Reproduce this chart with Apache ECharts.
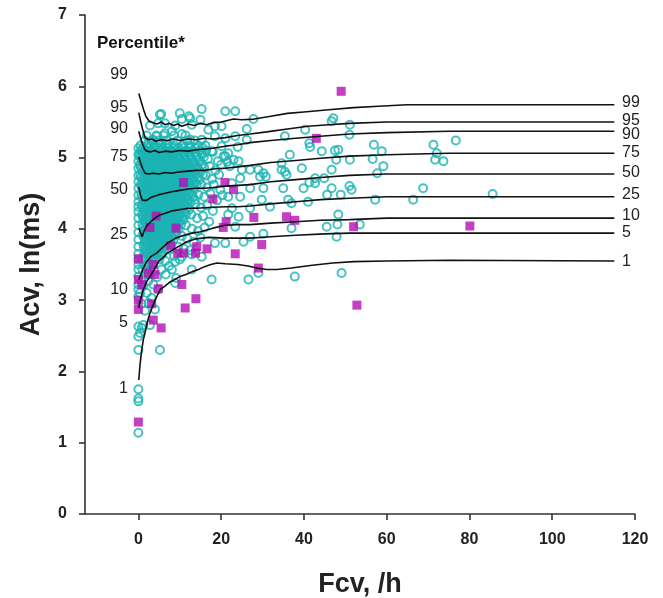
<!DOCTYPE html>
<html>
<head>
<meta charset="utf-8">
<script src="https://cdn.jsdelivr.net/npm/echarts@6/dist/echarts.min.js"></script>
<style>html,body{margin:0;padding:0;background:#fff}#c{width:663px;height:598px}</style>
</head>
<body>
<div id="c"></div>
<script>
// ---- axis ticks ----
const xTicks = [0, 20, 40, 60, 80, 100, 120];
const percentileNames = ['99', '95', '90', '75', '50', '25', '10', '5', '1'];

// ---- percentile curves [Fcv, Acv] ----
const p99 = [[0.1,5.90],[0.6,5.80],[1.2,5.68],[1.8,5.58],[2.6,5.51],[3.5,5.49],[4.5,5.47],[5.5,5.50],[6.5,5.46],[7.5,5.48],[8.5,5.45],[9.5,5.47],[10.5,5.44],[12,5.47],[13.5,5.45],[15,5.48],[16.5,5.46],[18,5.49],[20,5.50],[23,5.54],[25,5.53],[28,5.54],[32,5.58],[36,5.62],[40,5.64],[46,5.67],[52,5.70],[58,5.72],[65,5.74],[115,5.74]];
const p95 = [[0.1,5.63],[0.5,5.52],[1.0,5.40],[1.6,5.28],[2.4,5.25],[3.2,5.26],[4.2,5.23],[5.5,5.25],[7,5.24],[8.5,5.26],[10,5.24],[12,5.26],[14,5.25],[16,5.27],[18,5.26],[21,5.28],[24,5.31],[27,5.33],[31,5.36],[36,5.40],[41,5.44],[46,5.46],[51,5.48],[60,5.50],[80,5.50],[115,5.50]];
const p90 = [[0.1,5.37],[0.5,5.28],[1.0,5.19],[1.5,5.12],[2.0,5.09],[3,5.08],[4,5.10],[5,5.07],[6.5,5.09],[8,5.08],[10,5.10],[12,5.09],[14,5.11],[16,5.12],[18,5.13],[21,5.16],[24,5.18],[27,5.21],[32,5.24],[38,5.27],[44,5.30],[51,5.33],[60,5.35],[75,5.37],[115,5.37]];
const p75 = [[0.1,5.01],[0.5,4.93],[1.0,4.85],[1.6,4.78],[2.5,4.77],[3.5,4.78],[5,4.77],[6.5,4.79],[8,4.78],[10,4.80],[12,4.81],[14,4.82],[16,4.82],[18,4.84],[21,4.85],[24,4.87],[27,4.89],[32,4.93],[38,4.96],[44,4.99],[51,5.02],[60,5.04],[75,5.06],[115,5.06]];
const p50 = [[0.1,4.59],[0.5,4.47],[1.0,4.40],[1.3,4.38],[2,4.40],[3,4.44],[4,4.46],[5,4.48],[6.5,4.50],[8,4.52],[10,4.54],[12,4.56],[14,4.57],[16,4.57],[18,4.58],[21,4.60],[24,4.61],[27,4.62],[32,4.66],[38,4.69],[44,4.72],[51,4.75],[60,4.77],[115,4.77]];
const p25 = [[0.1,4.01],[0.5,3.95],[0.9,3.89],[1.3,3.96],[2,4.04],[3,4.10],[4,4.15],[5,4.19],[6.5,4.22],[8,4.25],[10,4.27],[12,4.29],[14,4.29],[17,4.30],[21,4.31],[24,4.31],[27,4.32],[32,4.35],[38,4.38],[44,4.41],[51,4.43],[60,4.45],[115,4.45]];
const p10 = [[0.1,3.29],[0.6,3.36],[1.2,3.45],[2,3.54],[3,3.61],[4.4,3.66],[5.5,3.72],[7,3.80],[9,3.87],[11,3.91],[13,3.94],[15,3.96],[18,4.01],[21,4.05],[24,4.06],[27,4.06],[32,4.08],[38,4.10],[44,4.12],[51,4.13],[60,4.15],[115,4.15]];
const p5 = [[0.1,2.89],[0.6,3.03],[1.2,3.15],[2,3.26],[2.8,3.33],[4,3.45],[5,3.55],[6,3.60],[7,3.66],[9,3.73],[11.7,3.82],[14,3.86],[17,3.88],[21,3.87],[24,3.87],[27,3.87],[32,3.89],[38,3.91],[45,3.93],[51,3.94],[115,3.94]];
const p1 = [[0.1,1.88],[0.4,2.10],[0.8,2.30],[1.2,2.45],[1.6,2.54],[2.2,2.70],[2.8,2.82],[3.5,2.92],[4.2,3.02],[5.3,3.15],[6.5,3.20],[7.5,3.25],[8.5,3.28],[10,3.33],[11.5,3.36],[13,3.40],[14.5,3.43],[16,3.47],[17.5,3.50],[19,3.52],[21,3.51],[24,3.50],[26.5,3.48],[28.6,3.45],[31,3.43],[33.5,3.43],[37,3.45],[42,3.49],[47,3.52],[52,3.54],[60,3.55],[75,3.56],[115,3.55]];

// ---- teal (open circle) subjects: dense core, rows of [Acv, [Fcv...]] ----
const cyanCoreRows = [
  [5.31, [2.0,4.4,6.1,8.6,11.4]],
  [5.24, [1.5,3.3,5.0,6.8,9.4,11.8,13.6]],
  [5.17, [0.5,2.2,3.9,5.6,7.0,8.8,10.6,12.3,14.5,16.2]],
  [5.135, [1.2,2.6,3.6,4.7,5.9,7.1,8.3,9.6,10.9,12.4,13.8,15.5]],
  [5.10, [0.6,1.8,3.0,4.1,5.3,6.4,7.7,9.0,10.2,11.6,13.1,14.8,16.4]],
  [5.07, [0.9,2.1,3.3,4.5,5.7,7.0,8.2,9.4,10.7,12.1,13.6,15.2]],
  [5.04, [0.3,1.2,2.4,3.5,4.7,5.9,7.1,8.3,9.6,11.0,12.4,14.0]],
  [5.005, [0.5,1.5,2.6,3.7,4.9,6.1,7.3,8.5,9.8,11.2,12.6,14.0,15.8]],
  [4.97, [0.8,1.9,3.0,4.2,5.4,6.5,7.7,8.9,10.1,11.5,12.9,14.6]],
  [4.935, [1.0,2.0,3.1,4.3,5.5,6.7,7.9,9.2,10.5,11.9,13.3,14.9]],
  [4.90, [0.4,1.4,2.5,3.6,4.8,5.9,7.1,8.4,9.6,10.9,12.2,13.7,15.3]],
  [4.865, [0.6,1.6,2.8,3.9,5.1,6.3,7.5,8.8,10.1,11.4,12.8,14.2,15.9]],
  [4.83, [0.9,2.0,3.1,4.2,5.3,6.5,7.8,9.0,10.3,11.6,13.0,14.5]],
  [4.795, [1.1,2.2,3.4,4.5,5.8,7.0,8.2,9.5,10.8,12.1,13.5,15.0]],
  [4.76, [0.5,1.5,2.6,3.7,4.8,6.0,7.2,8.4,9.7,11.1,12.4,13.9,15.6]],
  [4.725, [0.7,1.7,2.9,4.0,5.2,6.4,7.6,8.9,10.2,11.6,13.0,14.4]],
  [4.69, [1.0,2.1,3.2,4.3,5.4,6.6,7.8,9.1,10.4,11.8,13.2,14.8]],
  [4.655, [1.2,2.3,3.5,4.6,5.9,7.1,8.3,9.6,10.9,12.3,13.8]],
  [4.62, [0.6,1.6,2.7,3.8,4.9,6.1,7.3,8.5,9.8,11.2,12.6,14.1]],
  [4.585, [0.8,1.8,3.0,4.1,5.3,6.5,7.7,9.0,10.3,11.7,13.1]],
  [4.55, [1.1,2.2,3.3,4.4,5.5,6.7,7.9,9.2,10.5,11.9,13.5]],
  [4.515, [1.3,2.4,3.6,4.7,6.0,7.2,8.4,9.7,11.0,12.4]],
  [4.48, [0.7,1.7,2.8,3.9,5.0,6.2,7.4,8.6,9.9,11.3,12.8]],
  [4.445, [0.9,1.9,3.1,4.2,5.4,6.6,7.8,9.1,10.4,11.8,13.2]],
  [4.41, [1.2,2.3,3.4,4.5,5.6,6.8,8.0,9.3,10.6,12.0,13.6]],
  [4.375, [1.4,2.5,3.7,4.8,6.1,7.3,8.5,9.8,11.1,12.6]],
  [4.34, [0.8,1.8,2.9,4.0,5.1,6.3,7.5,8.7,10.0,11.4]],
  [4.305, [1.0,2.0,3.2,4.3,5.5,6.7,7.9,9.2,10.5,11.9]],
  [4.27, [1.3,2.4,3.5,4.6,5.7,6.9,8.1,9.4,10.8,12.3]],
  [4.235, [1.5,2.6,3.8,4.9,6.2,7.4,8.6,9.9,11.2]],
  [4.20, [0.9,1.9,3.0,4.1,5.2,6.4,7.6,8.8,10.1,11.5]],
  [4.165, [1.1,2.1,3.3,4.4,5.6,6.8,8.0,9.3,10.6]],
  [4.13, [1.4,2.5,3.6,4.7,5.8,7.0,8.2,9.5,10.9]],
  [4.095, [1.6,2.7,3.9,5.0,6.3,7.5,8.7,10.0]],
  [4.06, [1.0,2.0,3.1,4.2,5.3,6.5,7.7,8.9,10.3]],
  [4.025, [1.2,2.2,3.4,4.5,5.7,6.9,8.1,9.4]],
  [3.99, [1.5,2.6,3.7,4.8,5.9,7.1,8.3,9.7]],
  [3.955, [1.7,2.8,4.0,5.1,6.4,7.6,8.8]],
  [3.92, [1.1,2.1,3.2,4.3,5.4,6.6,7.8,9.1]],
  [3.885, [1.3,2.3,3.5,4.6,5.8,7.0,8.2]],
  [3.85, [1.6,2.7,3.8,4.9,6.0,7.2,8.5]],
  [3.815, [1.8,2.9,4.1,5.2,6.5,7.6]],
  [3.78, [1.2,2.2,3.3,4.4,5.5,6.7,8.0]],
  [3.745, [1.4,2.4,3.6,4.7,5.9]],
  [3.71, [1.7,2.8,3.9,5.0,6.2,7.4]],
  [3.675, [1.9,3.0,4.2,5.3]],
  [3.64, [1.3,2.3,3.4,4.5,5.7]],
  [3.605, [1.5,2.5,3.7]],
  [3.57, [0.9,1.8,2.9,4.0,5.1]],
  [3.50, [1.4,2.4,3.5]],
  [3.43, [1.0,1.9,3.0]],
  [3.36, [1.5,2.5]],
  [3.29, [1.1]]
];
// teal subjects at Fcv = 0
const cyanZeroY = [1.14,1.58,1.62,1.75,2.30,2.49,2.63,3.05,3.15,3.22,3.33,3.43,3.50,3.57,3.65,3.75,3.85,3.95,4.05,4.15,4.24,4.31,4.38,4.47,4.57,4.66,4.75,4.85,4.95,5.04,5.13];
// other teal subjects [Fcv, Acv]
const cyanOther = [
  [15.3,5.68],[21,5.65],[23.4,5.65],[5.5,5.61],[10,5.62],[12.2,5.58],[10.5,5.54],[2.8,5.45],[4.8,5.48],[6.4,5.48],[8.9,5.45],[12.9,5.46],[15,5.53],[16.9,5.39],[18.5,5.44],[20.1,5.44],[6.4,5.34],[8.1,5.37],[10.5,5.33],[4.4,5.30],[15.3,5.25],[2.4,5.20],[3.6,5.25],[4.8,5.20],[7.2,5.18],[12.5,5.25],[18.5,5.30],[20.1,5.16],[21,5.27],[17.7,5.09],[21.7,5.06],[5.2,5.60],[12.5,5.55],
  [15.5,5.05],[16.8,4.98],[18.0,5.08],[19.2,4.95],[20.6,5.02],[17.2,4.88],[18.6,4.82],[20.0,4.90],[21.5,4.94],[16.3,4.75],[17.8,4.70],[19.5,4.76],[15.2,4.62],[16.6,4.58],[18.2,4.62],[19.8,4.55],[14.5,4.48],[15.9,4.45],[17.4,4.50],[19.0,4.40],[20.3,4.47],[13.8,4.35],[15.1,4.30],[16.6,4.33],[18.0,4.25],[12.8,4.20],[14.2,4.15],[15.6,4.18],[17.1,4.10],[11.5,4.05],[12.9,4.00],[14.4,3.97],[16.0,4.02],[10.5,3.90],[11.8,3.86],[13.3,3.82],[15.0,3.88],[9.6,3.75],[11.0,3.72],[12.5,3.70],[8.6,3.62],[10.0,3.57],[6.5,3.55],[7.4,3.48],[5.6,3.43],[6.6,3.36],[4.5,3.32],[3.6,3.22],[2.4,3.27],
  [27.8,5.54],[26.2,5.40],[23.4,5.30],[26.2,5.25],[24,5.15],[21,5.02],[23,4.97],[24.2,4.95],[22.1,4.88],[25,4.83],[27,4.83],[29,4.83],[30.2,4.78],[34.6,4.92],[39.5,4.85],[36.6,5.04],[40.3,5.39],[35.4,5.30],[24.6,4.71],[22.6,4.64],[21.7,4.45],[24.6,4.45],[27,4.29],[29.8,4.41],[31.8,4.31],[35,4.57],[39.9,4.57],[36.2,4.41],[37,4.36],[41,4.38],[22.6,4.29],[21.7,4.20],[24.2,4.17],[23.4,4.03],[27,3.89],[25.4,3.82],[21,3.80],[30.2,3.93],[37,4.01],[45.5,4.03],[47.9,3.89],[48.3,4.20],[37.8,3.33],[26.6,3.29],[29,3.38],[46.7,4.83],[48.3,5.11],[44.3,5.09],[42.7,4.64],
  [41.3,5.20],[41.5,5.15],[46.7,5.51],[47.1,5.55],[51.1,5.46],[51,5.32],[47.5,5.10],[47.8,4.97],[51.1,4.97],[56.9,5.18],[58.8,5.09],[56.6,4.98],[59.2,4.88],[57.7,4.78],[71.3,5.18],[72.1,5.06],[71.7,4.97],[73.7,4.95],[68.8,4.57],[66.4,4.41],[57.2,4.41],
  [30.8,4.73],[29.4,4.73],[34.6,4.83],[35.4,4.80],[35.8,4.76],[27,4.57],[30.2,4.57],[41.3,4.65],[42.7,4.71],[44.9,4.71],[46.7,4.57],[45.6,4.48],[48.9,4.48],[51,4.60],[51.5,4.55],[48.1,4.06],[53.5,4.06],[49.1,3.38],[76.7,5.24],[85.6,4.49],
  [0.4,3.10],[2.4,2.96],[3.2,3.03],[4.8,3.15],[4,2.87],[1.2,2.65],[2.8,2.65],[0.4,2.54],[5.2,2.30],[8.9,3.24],[17.7,3.29],[0.8,2.61],[2.4,3.50],[8.1,3.43],[8.9,3.54],[12.9,3.43],[15.3,3.61],[18.5,3.80],[10.5,3.61],[12.9,3.64],[1.6,2.85],[0.8,2.95],[2.0,3.10],[1.2,3.20],[9.1,3.31]
];

// ---- magenta (filled square) subjects [Fcv, Acv] ----
const magentaPts = [
  [49,5.93],[43,5.27],[10.9,4.65],[20.9,4.65],[23,4.55],[18,4.42],[4.3,4.18],[2.8,4.02],[9.1,4.01],[27.9,4.16],[21.2,4.10],[20.5,4.02],[29.8,3.78],[7.8,3.76],[9.5,3.66],[10.9,3.66],[14.1,3.75],[13.8,3.66],[16.6,3.72],[23.4,3.65],
  [0,3.58],[0,3.29],[0.8,3.22],[0,3.00],[0,2.87],[2.4,3.38],[3.6,3.50],[4,3.36],[4.8,3.16],[3.2,2.95],[3.6,2.72],[5.5,2.61],[10.5,3.22],[11.3,2.89],[13.9,3.02],[0,1.29],
  [35.8,4.17],[37.8,4.12],[52,4.03],[29,3.45],[80.1,4.04],[52.8,2.93]
];

// build datasets from the typed arrays
const cyanData = [];
cyanCoreRows.forEach(r => r[1].forEach(x => cyanData.push([x, r[0]])));
cyanZeroY.forEach(y => cyanData.push([0, y]));
cyanOther.forEach(p => cyanData.push(p));
const curves = [p99, p95, p90, p75, p50, p25, p10, p5, p1];

const FONT = '"Liberation Sans", Arial, sans-serif';
const chart = echarts.init(document.getElementById('c'), null, {renderer: 'canvas'});

// label anchor pixels (text annotations)
const leftLabelY = [75, 108, 129, 157, 190, 235, 290, 323, 389];
const rightLabelY = [103, 121, 135, 153, 173, 195, 216, 233, 262];
const graphics = [{
  type: 'text', left: 97, top: 35,
  style: {text: 'Percentile*', font: 'bold 17px ' + FONT, fill: '#111'}
}];
percentileNames.forEach((n, i) => {
  graphics.push({type: 'text', x: 128, y: leftLabelY[i],
    style: {text: n, font: '16px ' + FONT, fill: '#222', align: 'right', verticalAlign: 'middle', textAlign: 'right', textVerticalAlign: 'middle'}});
  graphics.push({type: 'text', x: 622, y: rightLabelY[i],
    style: {text: n, font: '16px ' + FONT, fill: '#222', align: 'left', verticalAlign: 'middle', textAlign: 'left', textVerticalAlign: 'middle'}});
});

const series = [{
  type: 'scatter', data: cyanData, symbol: 'circle', symbolSize: 8,
  itemStyle: {color: 'rgba(255,255,255,0)', borderColor: '#1ab3b3', borderWidth: 2},
  silent: true, z: 2
}, {
  type: 'scatter', data: magentaPts, symbol: 'rect', symbolSize: 9,
  itemStyle: {color: '#b40fb4'}, silent: true, z: 3
}];
curves.forEach((c, i) => series.push({
  type: 'line', name: percentileNames[i], data: c, symbol: 'none', smooth: false,
  lineStyle: {color: '#111', width: 1.6}, silent: true, z: 4
}));

chart.setOption({
  animation: false,
  backgroundColor: '#fff',
  grid: {left: 85, right: 28, top: 15, bottom: 84, containLabel: false, outerBoundsMode: 'none'},
  xAxis: {
    type: 'value', min: -12.9, max: 120,
    name: 'Fcv, /h', nameLocation: 'middle', nameGap: 57,
    nameTextStyle: {fontFamily: FONT, fontWeight: 'bold', fontSize: 27, color: '#222'},
    axisLine: {show: true, onZero: false, lineStyle: {color: '#333', width: 1.6}},
    axisTick: {show: true, length: 6, customValues: xTicks, lineStyle: {color: '#333', width: 1.6}},
    axisLabel: {customValues: xTicks, margin: 18, fontFamily: FONT, fontWeight: 'bold', fontSize: 16, color: '#222'},
    splitLine: {show: false}
  },
  yAxis: {
    type: 'value', min: 0, max: 7, interval: 1,
    name: 'Acv, ln(ms)', nameLocation: 'middle', nameGap: 40,
    nameTextStyle: {fontFamily: FONT, fontWeight: 'bold', fontSize: 27, color: '#222'},
    axisLine: {show: true, onZero: false, lineStyle: {color: '#333', width: 1.6}},
    axisTick: {show: true, length: 6, lineStyle: {color: '#333', width: 1.6}},
    axisLabel: {margin: 18, fontFamily: FONT, fontWeight: 'bold', fontSize: 16, color: '#222'},
    splitLine: {show: false}
  },
  graphic: graphics,
  series: series
});
</script>
</body>
</html>
